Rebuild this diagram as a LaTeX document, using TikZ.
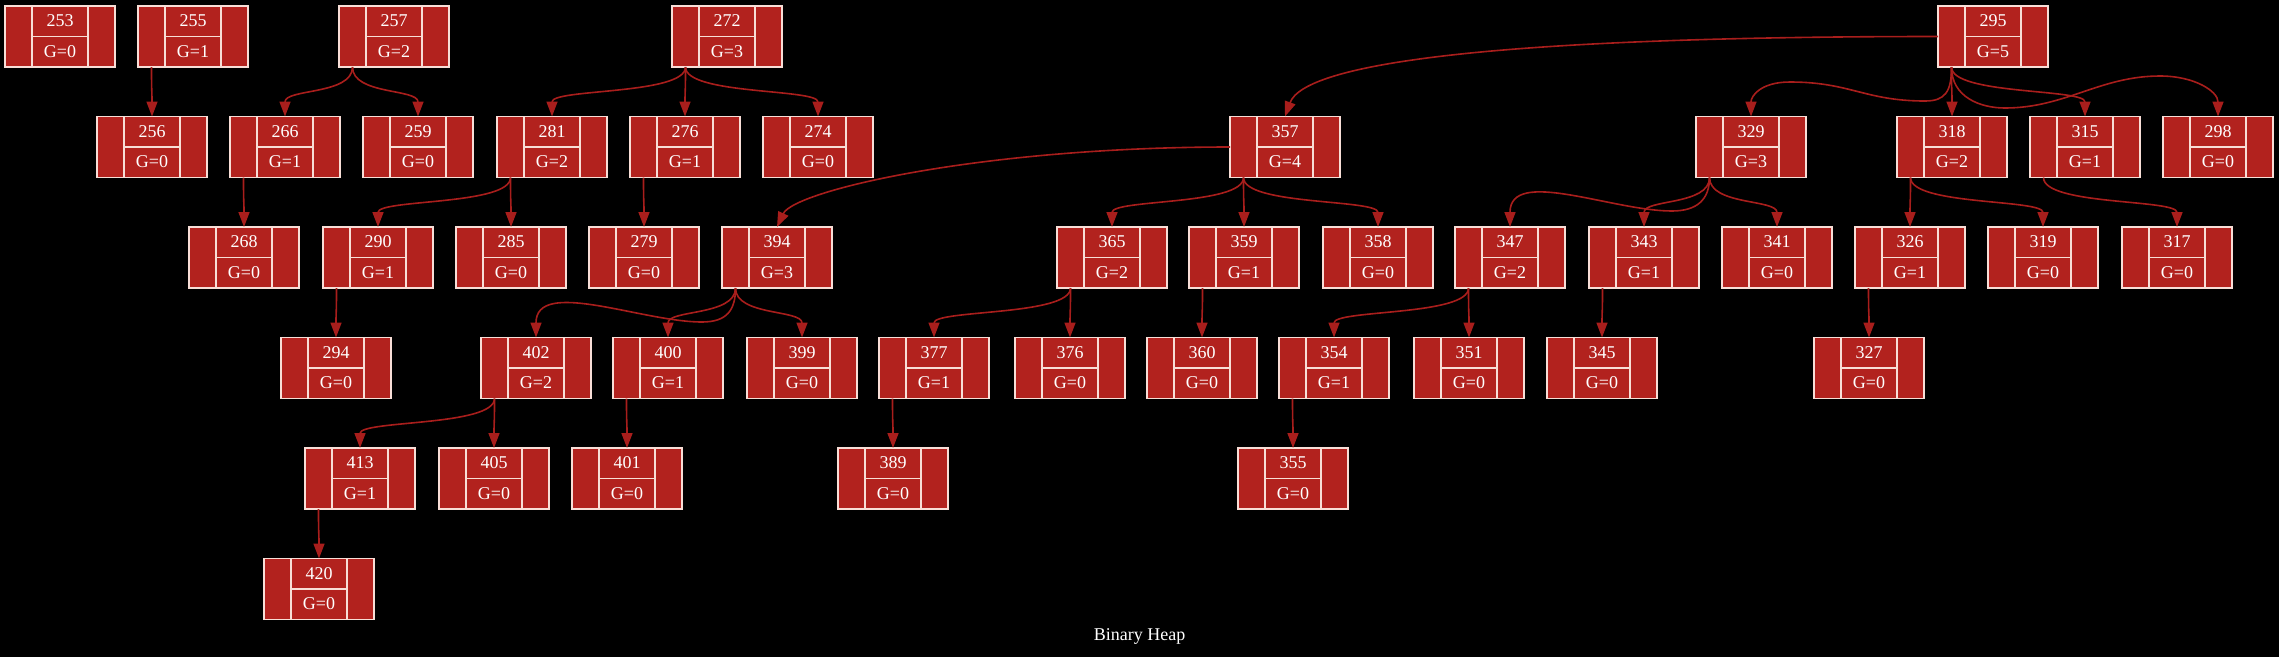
\documentclass[tikz,border=0pt]{standalone}
\usepackage{fontspec}
\setmainfont{Liberation Serif}
\usetikzlibrary{arrows.meta}
\definecolor{recfill}{RGB}{178,34,30}
\definecolor{recline}{RGB}{248,222,215}
\definecolor{edgecol}{RGB}{168,30,28}
\tikzset{
  hrec/.style={draw=recline, fill=recfill, line width=1.2pt, minimum width=110pt, minimum height=61pt, inner sep=0pt, outer sep=0pt},
  hsep/.style={draw=recline, line width=1.2pt},
  htxt/.style={text=white, font=\fontsize{18}{20}\selectfont, inner sep=0pt},
  hedge/.style={draw=edgecol, line width=1.6pt, -{Triangle[length=15pt,width=11pt]}, out=-90, in=90, out distance=28pt, in distance=28pt},
}
\newcommand{\heapnode}[5]{%
  \node[hrec] (#1) at ({#2+55},{6+110.5*#3+30.5}) {};
  \draw[hsep] ([xshift=27pt]#1.north west) -- ([xshift=27pt]#1.south west);
  \draw[hsep] ([xshift=-27pt]#1.north east) -- ([xshift=-27pt]#1.south east);
  \draw[hsep] ([xshift=27pt]#1.west) -- ([xshift=-27pt]#1.east);
  \node[htxt] (#1-k) at ([yshift=-15pt]#1.north) {#4};
  \node[htxt] (#1-g) at ([yshift=15.5pt]#1.south) {G=#5};
  \coordinate (#1-p) at ([xshift=13.5pt]#1.south west);
}
\begin{document}
\begin{tikzpicture}[x=1pt,y=-1pt]
\fill[black] (0,0) rectangle (2279,657);
\useasboundingbox (0,0) rectangle (2279,657);
% row 0
\heapnode{n253}{5}{0}{253}{0}
\heapnode{n255}{138}{0}{255}{1}
\heapnode{n257}{339}{0}{257}{2}
\heapnode{n272}{672}{0}{272}{3}
\heapnode{n295}{1938}{0}{295}{5}
% row 1
\heapnode{n256}{97}{1}{256}{0}
\heapnode{n266}{230}{1}{266}{1}
\heapnode{n259}{363}{1}{259}{0}
\heapnode{n281}{497}{1}{281}{2}
\heapnode{n276}{630}{1}{276}{1}
\heapnode{n274}{763}{1}{274}{0}
\heapnode{n357}{1230}{1}{357}{4}
\heapnode{n329}{1696}{1}{329}{3}
\heapnode{n318}{1897}{1}{318}{2}
\heapnode{n315}{2030}{1}{315}{1}
\heapnode{n298}{2163}{1}{298}{0}
% row 2
\heapnode{n268}{189}{2}{268}{0}
\heapnode{n290}{323}{2}{290}{1}
\heapnode{n285}{456}{2}{285}{0}
\heapnode{n279}{589}{2}{279}{0}
\heapnode{n394}{722}{2}{394}{3}
\heapnode{n365}{1057}{2}{365}{2}
\heapnode{n359}{1189}{2}{359}{1}
\heapnode{n358}{1323}{2}{358}{0}
\heapnode{n347}{1455}{2}{347}{2}
\heapnode{n343}{1589}{2}{343}{1}
\heapnode{n341}{1722}{2}{341}{0}
\heapnode{n326}{1855}{2}{326}{1}
\heapnode{n319}{1988}{2}{319}{0}
\heapnode{n317}{2122}{2}{317}{0}
% row 3
\heapnode{n294}{281}{3}{294}{0}
\heapnode{n402}{481}{3}{402}{2}
\heapnode{n400}{613}{3}{400}{1}
\heapnode{n399}{747}{3}{399}{0}
\heapnode{n377}{879}{3}{377}{1}
\heapnode{n376}{1015}{3}{376}{0}
\heapnode{n360}{1147}{3}{360}{0}
\heapnode{n354}{1279}{3}{354}{1}
\heapnode{n351}{1414}{3}{351}{0}
\heapnode{n345}{1547}{3}{345}{0}
\heapnode{n327}{1814}{3}{327}{0}
% row 4
\heapnode{n413}{305}{4}{413}{1}
\heapnode{n405}{439}{4}{405}{0}
\heapnode{n401}{572}{4}{401}{0}
\heapnode{n389}{838}{4}{389}{0}
\heapnode{n355}{1238}{4}{355}{0}
% row 5
\heapnode{n420}{264}{5}{420}{0}
% way points of the routed edges
\coordinate (w329a) at (1925,101);
\coordinate (w329b) at (1790,82);
\coordinate (w298a) at (2005,108);
\coordinate (w298b) at (2160,76);
\coordinate (w347) at (1672,211);
\coordinate (w402) at (702,322);
% edges
\draw[hedge] (n255-p) to (n256.north);
\draw[hedge] (n257-p) to (n266.north);
\draw[hedge] (n257-p) to (n259.north);
\draw[hedge] (n266-p) to (n268.north);
\draw[hedge] (n272-p) to (n281.north);
\draw[hedge] (n272-p) to (n276.north);
\draw[hedge] (n272-p) to (n274.north);
\draw[hedge] (n281-p) to (n290.north);
\draw[hedge] (n281-p) to (n285.north);
\draw[hedge] (n276-p) to (n279.north);
\draw[hedge] (n290-p) to (n294.north);
\draw[hedge] (n295.west) to[out=180,in=70,out distance=440pt,in distance=57pt] (n357.north);
\draw[hedge] (n295-p) .. controls +(0,25) and +(20,0) .. (w329a)
   .. controls +(-60,0) and +(60,0) .. (w329b)
   .. controls +(-30,0) and +(0,-20) .. (n329.north);
\draw[hedge] (n295-p) to (n318.north);
\draw[hedge] (n295-p) to (n315.north);
\draw[hedge] (n295-p) .. controls +(0,30) and +(-25,0) .. (w298a)
   .. controls +(60,0) and +(-60,0) .. (w298b)
   .. controls +(35,0) and +(0,-25) .. (n298.north);
\draw[hedge] (n357.west) to[out=180,in=65,out distance=250pt,in distance=40pt] (n394.north);
\draw[hedge] (n357-p) to (n365.north);
\draw[hedge] (n357-p) to (n359.north);
\draw[hedge] (n357-p) to (n358.north);
\draw[hedge] (n329-p) .. controls +(0,22) and +(25,0) .. (w347)
   .. controls +(-60,0) and +(0,-60) .. (n347.north);
\draw[hedge] (n329-p) to (n343.north);
\draw[hedge] (n329-p) to (n341.north);
\draw[hedge] (n318-p) to (n326.north);
\draw[hedge] (n318-p) to (n319.north);
\draw[hedge] (n315-p) to (n317.north);
\draw[hedge] (n394-p) .. controls +(0,22) and +(25,0) .. (w402)
   .. controls +(-60,0) and +(0,-60) .. (n402.north);
\draw[hedge] (n394-p) to (n400.north);
\draw[hedge] (n394-p) to (n399.north);
\draw[hedge] (n365-p) to (n377.north);
\draw[hedge] (n365-p) to (n376.north);
\draw[hedge] (n359-p) to (n360.north);
\draw[hedge] (n347-p) to (n354.north);
\draw[hedge] (n347-p) to (n351.north);
\draw[hedge] (n343-p) to (n345.north);
\draw[hedge] (n326-p) to (n327.north);
\draw[hedge] (n402-p) to (n413.north);
\draw[hedge] (n402-p) to (n405.north);
\draw[hedge] (n400-p) to (n401.north);
\draw[hedge] (n377-p) to (n389.north);
\draw[hedge] (n354-p) to (n355.north);
\draw[hedge] (n413-p) to (n420.north);
\node[htxt] (title) at (1139.5,636) {Binary Heap};
\end{tikzpicture}
\end{document}
